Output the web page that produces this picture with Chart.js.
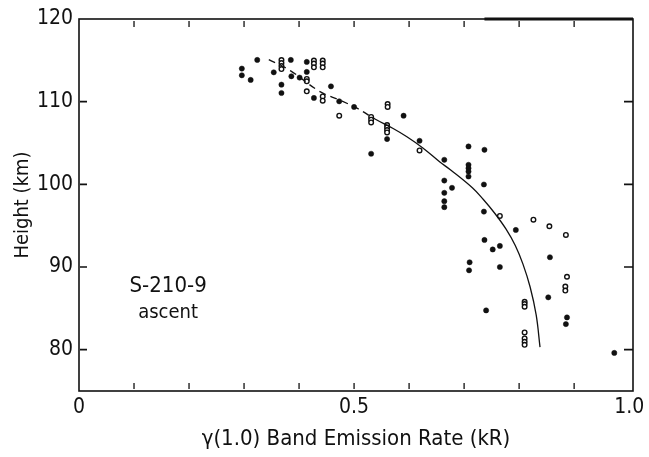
<!DOCTYPE html>
<html>
<head>
<meta charset="utf-8">
<script src="https://cdn.jsdelivr.net/npm/chart.js@4.4.1/dist/chart.umd.min.js"></script>
<style>
  html, body { margin: 0; padding: 0; background: #ffffff; }
  #wrap { width: 649px; height: 457px; }
</style>
</head>
<body>
<div id="wrap"><canvas id="c" width="649" height="457"></canvas></div>
<script>
// ---- axis ticks ----
const xTickValues = [0, 0.1, 0.2, 0.3, 0.4, 0.5, 0.6, 0.7, 0.8, 0.9, 1.0];
const xLabelValues = [0, 0.5, 1.0];
const xLabelTexts = ['0', '0.5', '1.0'];
const yTickValues = [80, 90, 100, 110, 120];
const yLabelTexts = ['80', '90', '100', '110', '120'];

// ---- measured emission rates (kR) vs height (km) ----
const filledPoints = [
  [0.296, 114.0], [0.296, 113.19], [0.312, 112.63], [0.324, 115.05],
  [0.354, 113.55], [0.368, 112.06], [0.368, 111.05], [0.385, 115.05],
  [0.386, 113.07], [0.401, 112.91], [0.414, 114.81], [0.414, 113.6],
  [0.427, 110.45], [0.458, 111.85], [0.473, 110.04], [0.500, 109.36],
  [0.531, 103.70], [0.560, 105.48], [0.590, 108.30], [0.619, 105.27],
  [0.664, 102.97], [0.664, 100.46], [0.678, 99.58], [0.708, 104.58],
  [0.737, 104.18], [0.664, 98.97], [0.664, 97.96], [0.664, 97.24],
  [0.708, 102.36], [0.708, 101.96], [0.708, 101.55], [0.708, 100.95],
  [0.736, 99.98], [0.736, 96.70], [0.794, 94.48], [0.737, 93.27],
  [0.765, 92.55], [0.752, 92.12], [0.710, 90.57], [0.709, 89.60],
  [0.765, 90.00], [0.856, 91.18], [0.853, 86.33], [0.740, 84.75],
  [0.887, 83.90], [0.885, 83.09], [0.973, 79.61]
];
const openPoints = [
  [0.368, 115.03], [0.368, 114.67], [0.368, 114.30], [0.368, 113.94],
  [0.414, 112.75], [0.414, 112.46], [0.414, 111.25],
  [0.427, 114.97], [0.427, 114.61], [0.427, 114.16],
  [0.443, 114.97], [0.443, 114.61], [0.443, 114.16],
  [0.443, 110.64], [0.443, 110.12], [0.473, 108.30],
  [0.531, 108.15], [0.531, 107.82], [0.531, 107.49],
  [0.561, 109.72], [0.561, 109.36],
  [0.560, 107.18], [0.560, 106.88], [0.560, 106.57], [0.560, 106.28],
  [0.619, 104.10], [0.765, 96.18], [0.826, 95.73], [0.855, 94.93],
  [0.885, 93.88], [0.887, 88.82], [0.884, 87.64], [0.884, 87.15],
  [0.810, 85.79], [0.810, 85.52], [0.810, 85.19],
  [0.810, 82.08], [0.810, 81.36], [0.810, 80.95], [0.810, 80.58]
];
// ---- fitted profile curve ----
const curveX = [0.345, 0.384, 0.438, 0.475, 0.507, 0.538, 0.571, 0.596, 0.625, 0.656,
                0.675, 0.715, 0.735, 0.756, 0.776, 0.793, 0.807, 0.820, 0.831, 0.838];
const curveY = [115.09, 113.76, 111.21, 110.16, 109.15, 107.9, 106.75, 105.75, 104.4, 102.7,
                101.76, 99.58, 98.16, 96.47, 94.6, 92.6, 90.35, 87.58, 84.2, 80.3];
const dashEndX = 0.57;

const annotationLines = ['S-210-9', 'ascent'];
const annotationX = 0.162;
const annotationY = [87.7, 84.4];

const FONT = "'DejaVu Sans Condensed', 'Liberation Sans Narrow', sans-serif";
const INK = '#111111';

const toXY = arr => arr.map(p => ({ x: p[0], y: p[1] }));

const framePlugin = {
  id: 'frame',
  afterDraw(chart) {
    const { ctx, chartArea: a, scales: { x, y } } = chart;
    ctx.save();
    ctx.strokeStyle = INK;
    ctx.lineWidth = 1.6;
    ctx.strokeRect(a.left, a.top, a.right - a.left, a.bottom - a.top);
    // thicker top edge portion
    ctx.lineWidth = 3;
    ctx.beginPath();
    ctx.moveTo(x.getPixelForValue(0.737), a.top);
    ctx.lineTo(a.right, a.top);
    ctx.stroke();
    // inward x minor ticks
    ctx.lineWidth = 1.3;
    xTickValues.forEach(v => {
      if (v <= 0 || v >= 1) return;
      const px = x.getPixelForValue(v);
      ctx.beginPath();
      ctx.moveTo(px, a.bottom - 2); ctx.lineTo(px, a.bottom - 8);
      ctx.moveTo(px, a.top + 2); ctx.lineTo(px, a.top + 8);
      ctx.stroke();
    });
    // inward y ticks
    ctx.lineWidth = 1.6;
    yTickValues.forEach(v => {
      if (v >= 120) return;
      const py = y.getPixelForValue(v);
      ctx.beginPath();
      ctx.moveTo(a.left + 1, py); ctx.lineTo(a.left + 8, py);
      ctx.moveTo(a.right - 9, py); ctx.lineTo(a.right, py);
      ctx.stroke();
    });
    // annotation
    ctx.fillStyle = INK;
    ctx.textAlign = 'center';
    ctx.textBaseline = 'middle';
    ctx.font = '22px ' + FONT;
    ctx.fillText(annotationLines[0], x.getPixelForValue(annotationX), y.getPixelForValue(annotationY[0]));
    ctx.font = '20px ' + FONT;
    ctx.fillText(annotationLines[1], x.getPixelForValue(annotationX), y.getPixelForValue(annotationY[1]));
    ctx.restore();
  }
};

new Chart(document.getElementById('c'), {
  type: 'scatter',
  data: {
    datasets: [
      {
        data: curveX.map((v, i) => ({ x: v, y: curveY[i] })),
        showLine: true,
        borderColor: INK,
        borderWidth: 1.3,
        pointRadius: 0,
        tension: 0.4,
        segment: {
          borderDash: ctx => (ctx.p1.parsed.x <= dashEndX ? [7, 5] : undefined)
        }
      },
      {
        data: toXY(filledPoints),
        pointRadius: 2.6,
        pointBackgroundColor: INK,
        pointBorderColor: INK,
        pointBorderWidth: 0.5
      },
      {
        data: toXY(openPoints),
        pointRadius: 2.3,
        pointBackgroundColor: '#ffffff',
        pointBorderColor: INK,
        pointBorderWidth: 1.4
      }
    ]
  },
  options: {
    responsive: false,
    animation: false,
    layout: { padding: { top: 19, right: 16, left: 0, bottom: 0 } },
    plugins: { legend: { display: false }, tooltip: { enabled: false } },
    scales: {
      x: {
        type: 'linear',
        min: 0,
        max: 1.007,
        afterBuildTicks: s => { s.ticks = xTickValues.map(v => ({ value: v })); },
        afterFit: s => { s.height = 66; },
        grid: { display: false, drawTicks: false },
        border: { display: false },
        ticks: {
          autoSkip: false,
          maxRotation: 0,
          padding: 4,
          color: INK,
          font: { family: FONT, size: 21 },
          callback: v => {
            const i = xLabelValues.findIndex(t => Math.abs(t - v) < 1e-6);
            return i >= 0 ? xLabelTexts[i] : '';
          }
        },
        title: {
          display: true,
          text: 'γ(1.0) Band Emission Rate (kR)',
          color: INK,
          font: { family: FONT, size: 22 },
          padding: { top: 0, bottom: 5 }
        }
      },
      y: {
        type: 'linear',
        min: 75,
        max: 120,
        afterBuildTicks: s => { s.ticks = yTickValues.map(v => ({ value: v })); },
        afterFit: s => { s.width = 79; },
        grid: { display: false, drawTicks: false },
        border: { display: false },
        ticks: {
          autoSkip: false,
          padding: 6,
          color: INK,
          font: { family: FONT, size: 21 },
          callback: v => {
            const i = yTickValues.indexOf(v);
            return i >= 0 ? yLabelTexts[i] : '';
          }
        },
        title: {
          display: true,
          text: 'Height (km)',
          color: INK,
          font: { family: FONT, size: 20 },
          padding: { top: 11, bottom: 0 }
        }
      }
    }
  },
  plugins: [framePlugin]
});
</script>
</body>
</html>
